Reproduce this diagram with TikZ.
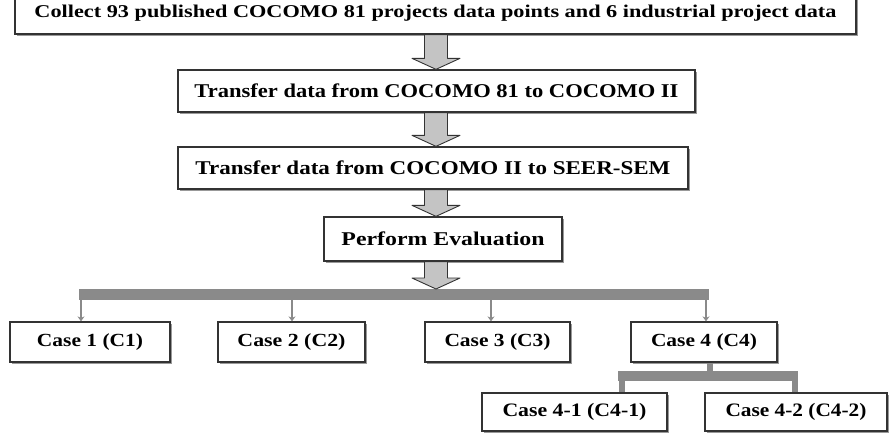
\documentclass[tikz,border=0pt]{standalone}
\usepackage{fontspec}
\setmainfont{Liberation Serif}
\usetikzlibrary{shadows,arrows.meta,calc}
\definecolor{arrowfill}{HTML}{C4C4C4}
\definecolor{busgray}{HTML}{8A8A8A}
\definecolor{boxline}{HTML}{333333}
\newcommand{\fw}[2]{\resizebox{#1}{\height}{#2}}
\newcommand{\blockarr}[2]{%
  \path let \p1=(#1), \p2=(#2) in
    [fill=arrowfill, draw=black!80, line width=0.9pt, line join=round]
    (\x1-11.5pt,\y1) -- (\x1+11.5pt,\y1) -- (\x1+11.5pt,\y2+11pt) --
    (\x1+24pt,\y2+11pt) -- (\x1,\y2) -- (\x1-24pt,\y2+11pt) --
    (\x1-11.5pt,\y2+11pt) -- cycle;}
\tikzset{
  stepbox/.style={draw=boxline, fill=white, line width=1.3pt, inner sep=0pt,
    minimum height=42pt, font=\bfseries, text=black,
    drop shadow={shadow xshift=2pt, shadow yshift=-2pt, fill=black!40, opacity=1}},
  bus/.style={draw=busgray, line width=11pt, line cap=butt},
  dropline/.style={draw=busgray, line width=2.5pt, -{Stealth[length=5pt,width=7pt]}},
  subbus/.style={draw=busgray, line width=10pt, line cap=butt},
  subdrop/.style={draw=busgray, line width=6pt, line cap=butt}
}
\begin{document}
\begin{tikzpicture}[x=1pt,y=-1pt]
\useasboundingbox (0,0) rectangle (889,444);
% main boxes
\node[stepbox, minimum width=841pt, font=\bfseries\fontsize{18}{18}\selectfont] (b1) at (435.5,13)
  {\fw{802pt}{Collect 93 published COCOMO 81 projects data points and 6 industrial project data}};
\node[stepbox, minimum width=517pt, font=\bfseries\fontsize{19.5}{19.5}\selectfont] (b2) at (436.5,91)
  {\fw{484pt}{Transfer data from COCOMO 81 to COCOMO II}};
\node[stepbox, minimum width=510pt, font=\bfseries\fontsize{19.5}{19.5}\selectfont] (b3) at (433,168)
  {\fw{475pt}{Transfer data from COCOMO II to SEER-SEM}};
\node[stepbox, minimum width=238pt, minimum height=44pt, font=\bfseries\fontsize{19.5}{19.5}\selectfont] (b4) at (443,239)
  {\fw{203pt}{Perform Evaluation}};
% case boxes
\node[stepbox, minimum width=160pt, minimum height=40pt, font=\bfseries\fontsize{18.5}{18.5}\selectfont] (c1) at (90,342)
  {\fw{106pt}{Case 1 (C1)}};
\node[stepbox, minimum width=147pt, minimum height=40pt, font=\bfseries\fontsize{18.5}{18.5}\selectfont] (c2) at (291.5,342)
  {\fw{108pt}{Case 2 (C2)}};
\node[stepbox, minimum width=145pt, minimum height=40pt, font=\bfseries\fontsize{18.5}{18.5}\selectfont] (c3) at (497.5,342)
  {\fw{106pt}{Case 3 (C3)}};
\node[stepbox, minimum width=146pt, minimum height=40pt, font=\bfseries\fontsize{18.5}{18.5}\selectfont] (c4) at (704,342)
  {\fw{106pt}{Case 4 (C4)}};
\node[stepbox, minimum width=185pt, minimum height=38pt, font=\bfseries\fontsize{19}{19}\selectfont] (c41) at (574.5,412)
  {\fw{144pt}{Case 4-1 (C4-1)}};
\node[stepbox, minimum width=182pt, minimum height=38pt, font=\bfseries\fontsize{19}{19}\selectfont] (c42) at (796,412)
  {\fw{141pt}{Case 4-2 (C4-2)}};
% coordinates
\coordinate (ax) at (436,0);
\coordinate (bl) at (79,294.5);
\coordinate (br) at (709,294.5);
\coordinate (busmid) at (436,289);
\coordinate (d1) at (81,300);
\coordinate (d2) at (292,300);
\coordinate (d3) at (491,300);
\coordinate (d4) at (706,300);
\coordinate (s0) at (710,376);
\coordinate (sl) at (618,376);
\coordinate (sr) at (798,376);
\coordinate (e1) at (622,381);
\coordinate (e2) at (795,381);
% main bus and drops
\draw[bus] (bl) -- (br);
\draw[dropline] (d1) -- (d1 |- c1.north);
\draw[dropline] (d2) -- (d2 |- c2.north);
\draw[dropline] (d3) -- (d3 |- c3.north);
\draw[dropline] (d4) -- (d4 |- c4.north);
% sub bus
\draw[subdrop] (c4.south -| s0) -- (s0);
\draw[subbus] (sl) -- (sr);
\draw[subdrop] (e1) -- (e1 |- c41.north);
\draw[subdrop] (e2) -- (e2 |- c42.north);
% block arrows
\blockarr{b1.south -| ax}{b2.north -| ax}
\blockarr{b2.south -| ax}{b3.north -| ax}
\blockarr{b3.south -| ax}{b4.north -| ax}
\blockarr{b4.south -| ax}{busmid}
\end{tikzpicture}
\end{document}
